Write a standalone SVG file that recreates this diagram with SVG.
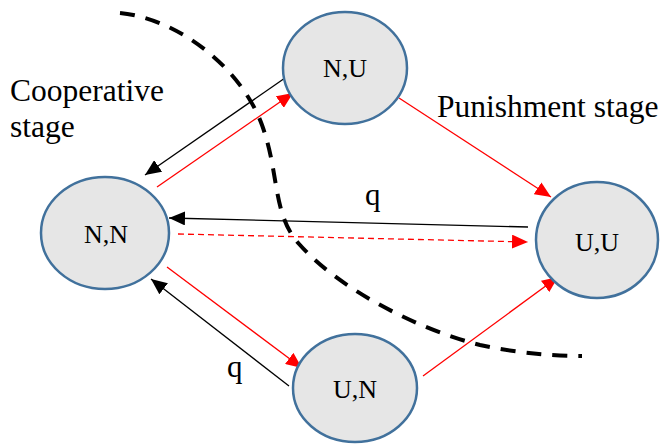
<svg xmlns="http://www.w3.org/2000/svg" width="662" height="445" viewBox="0 0 662 445">
<style>
.node ellipse{fill:#E6E6E6;stroke:#41719C;stroke-width:2.5}
text{font-family:'Liberation Serif','DejaVu Serif',serif;fill:#000}
.nt{font-size:26px;text-anchor:middle}
.st{font-size:31.5px}
.q{font-size:31px}
.conn line{stroke-width:1.3;fill:none}
.blk{stroke:#000}
.red{stroke:#FF0000}
</style>
<defs>
<marker id="ab" viewBox="0 0 16 14" refX="16" refY="7" markerWidth="16" markerHeight="14" markerUnits="userSpaceOnUse" orient="auto">
<path d="M0,0 L16,7 L0,14 z" fill="#000"/>
</marker>
<marker id="ar" viewBox="0 0 16 14" refX="16" refY="7" markerWidth="16" markerHeight="14" markerUnits="userSpaceOnUse" orient="auto">
<path d="M0,0 L16,7 L0,14 z" fill="#FF0000"/>
</marker>
</defs>
<rect width="662" height="445" fill="#fff"/>
<path id="boundary" d="M120,13 C175,18 240,65 262,125 C280,175 272,215 300,245 C340,290 420,330 480,345 C520,354 560,356 582,356" fill="none" stroke="#000" stroke-width="4" stroke-dasharray="15 11"/>
<g id="connectors" class="conn">
<line class="blk" x1="285" y1="78" x2="145" y2="175" marker-end="url(#ab)"/>
<line class="red" x1="157" y1="187" x2="293" y2="93" marker-end="url(#ar)"/>
<line class="red" x1="399" y1="98" x2="551" y2="197" marker-end="url(#ar)"/>
<line class="blk" x1="528" y1="227" x2="169" y2="218" marker-end="url(#ab)"/>
<line class="red" x1="178" y1="234" x2="528" y2="242" stroke-dasharray="6 4" marker-end="url(#ar)"/>
<line class="red" x1="167" y1="267" x2="302" y2="368" marker-end="url(#ar)"/>
<line class="blk" x1="289" y1="386" x2="151" y2="279" marker-end="url(#ab)"/>
<line class="red" x1="423" y1="376" x2="558" y2="277" marker-end="url(#ar)"/>
</g>
<g id="node-NU" class="node"><ellipse cx="345" cy="68" rx="62" ry="56"/><text class="nt" x="345" y="77">N,U</text></g>
<g id="node-NN" class="node"><ellipse cx="105" cy="233" rx="64" ry="56"/><text class="nt" x="106" y="243">N,N</text></g>
<g id="node-UU" class="node"><ellipse cx="597" cy="240" rx="61" ry="58"/><text class="nt" x="597" y="251">U,U</text></g>
<g id="node-UN" class="node"><ellipse cx="355" cy="388" rx="62" ry="54"/><text class="nt" x="355" y="398">U,N</text></g>
<text class="st" x="10" y="101">Cooperative</text>
<text class="st" x="10" y="137">stage</text>
<text class="st" x="437" y="117">Punishment stage</text>
<text class="q" x="365" y="205">q</text>
<text class="q" x="227" y="377">q</text>
</svg>
